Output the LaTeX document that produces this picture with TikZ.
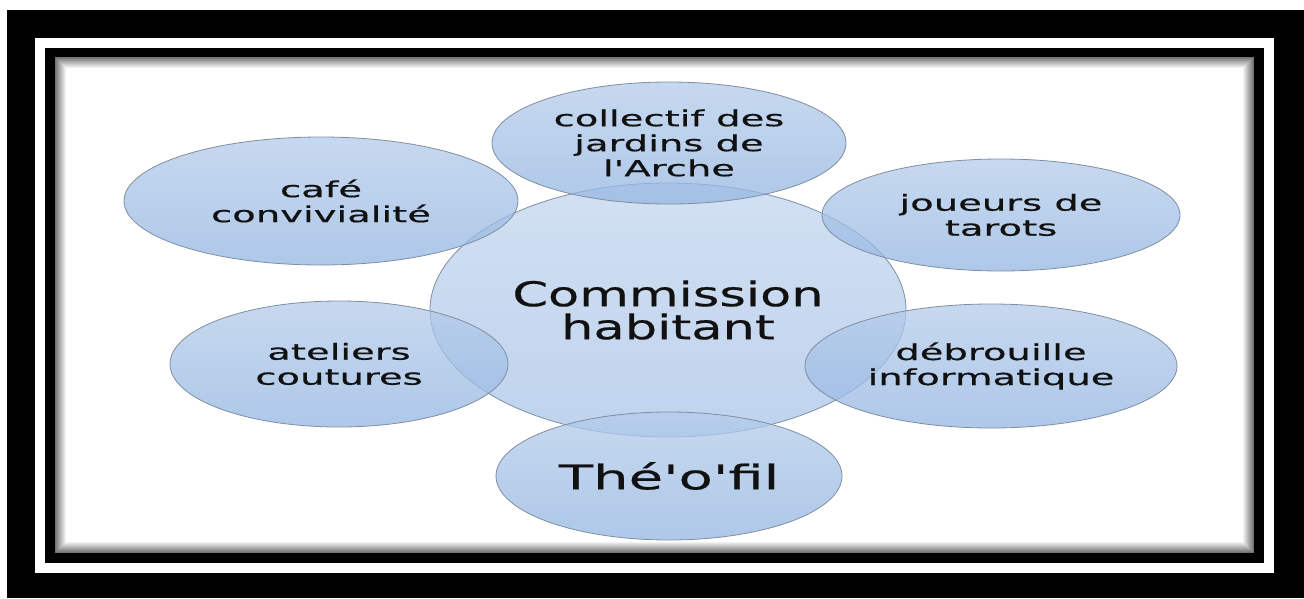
\documentclass[tikz,border=0pt]{standalone}
\usepackage{fontspec}
\setmainfont{DejaVu Sans}
% the picture is stretched sideways, so the text is too
\newfontfamily\ovalfont[FakeStretch=1.75, FakeBold=0.5]{DejaVu Sans}
\newfontfamily\hubfont[FakeStretch=1.5, FakeBold=0.5]{DejaVu Sans}
\newfontfamily\theofont[FakeStretch=1.65, FakeBold=0.5]{DejaVu Sans}
\usetikzlibrary{shapes.geometric}
\definecolor{ovaltop}{HTML}{B4CCEA}
\definecolor{ovalbottom}{HTML}{94B6E2}
\definecolor{ovaledge}{HTML}{7F8EA3}
\definecolor{ovaltext}{HTML}{111111}

\begin{document}
\begin{tikzpicture}[x=1pt, y=-1pt]
    \tikzset{
        oval/.style={ellipse, draw=ovaledge, line width=0.8pt, inner sep=0pt,
            top color=ovaltop, bottom color=ovalbottom, fill opacity=0.75,
            text opacity=1, text=ovaltext, align=center,
            font=\ovalfont\fontsize{22}{25}\selectfont},
        hub/.style={oval, fill opacity=0.6,
            font=\hubfont\fontsize{34}{33}\selectfont},
    }
    \useasboundingbox (0,0) rectangle (1304,598);
    % double frame
    \fill[white] (0,0) rectangle (1304,598);
    \fill[black] (7,10) rectangle (1304,598);
    \fill[white] (35,38) rectangle (1274,573);
    \fill[black] (45,48) rectangle (1264,563);
    \fill[white] (55,57) rectangle (1254,553);
    % inner shadow of the white panel
    \foreach \d in {0,...,11} {
        \pgfmathtruncatemacro\grey{55-5*\d}
        \draw[black!\grey, line width=1pt]
            (55.5+\d,57.5+\d) rectangle (1253.5-\d,552.5-\d);
    }

    \node[hub, minimum width=476pt, minimum height=254pt] (hub) at (668,310)
        {Commission\\habitant};

    \node[oval, minimum width=354pt, minimum height=122pt] (jardins) at (669,143)
        {collectif des\\jardins de\\l'Arche};
    \node[oval, minimum width=394pt, minimum height=128pt] (cafe) at (321,201)
        {café\\convivialité};
    \node[oval, minimum width=358pt, minimum height=112pt] (tarots) at (1001,215)
        {joueurs de\\tarots};
    \node[oval, minimum width=338pt, minimum height=126pt] (couture) at (339,364)
        {ateliers\\coutures};
    \node[oval, minimum width=372pt, minimum height=124pt] (info) at (991,366)
        {débrouille\\informatique};
    \node[oval, minimum width=346pt, minimum height=128pt,
        font=\theofont\fontsize{34}{33}\selectfont] (theofil) at (669,476)
        {Thé'o'fil};
\end{tikzpicture}
\end{document}
